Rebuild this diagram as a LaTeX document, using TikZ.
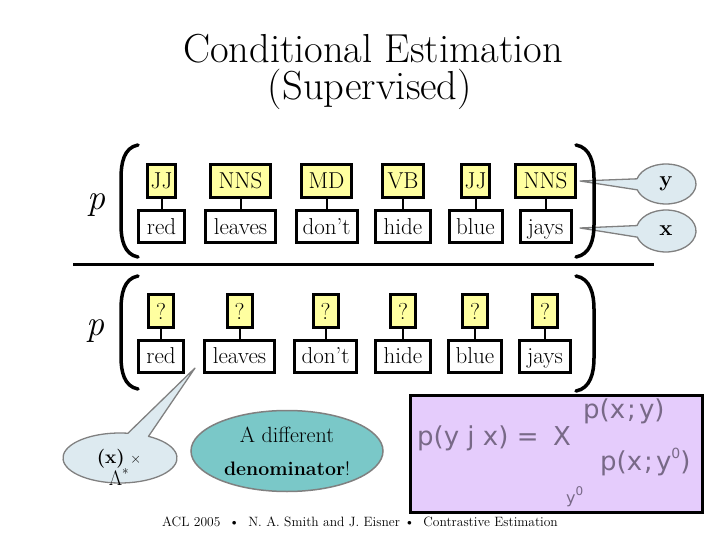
\documentclass[tikz,border=0pt]{standalone}
\usepackage{fontspec}
\newfontfamily\formfont{DejaVu Sans}
\usetikzlibrary{calc,shapes.geometric}
\definecolor{tagyellow}{RGB}{255,255,160}
\definecolor{calloutblue}{RGB}{221,234,240}
\definecolor{calloutedge}{RGB}{128,128,128}
\definecolor{tealfill}{RGB}{122,200,200}
\definecolor{lavender}{RGB}{229,204,252}
\definecolor{formgray}{RGB}{120,105,135}
\tikzset{
  tagbox/.style={draw=black, line width=3pt, fill=tagyellow, minimum height=33pt,
    inner xsep=2pt, inner ysep=0pt, text height=16pt, text depth=0pt,
    font=\fontsize{23}{26}\selectfont},
  wordbox/.style={draw=black, line width=3pt, fill=white, minimum height=32pt,
    inner xsep=2pt, inner ysep=0pt, text height=15pt, text depth=0pt,
    font=\fontsize{23}{26}\selectfont},
  stem/.style={draw=black, line width=2pt},
  paren/.style={draw=black, line width=3.5pt, line cap=round},
  callout/.style={draw=calloutedge, line width=1.3pt, fill=calloutblue, line join=round},
  plabel/.style={font=\fontsize{36}{40}\selectfont\itshape},
  formtext/.style={text=formgray, font=\fontsize{26}{30}\formfont, inner sep=0pt, anchor=base west},
}
\begin{document}
\begin{tikzpicture}[x=1pt,y=-1pt]
\useasboundingbox (0,0) rectangle (720,540);

% title
\node[anchor=base, font=\fontsize{40.5}{44}\selectfont] (title1) at (373,63) {Conditional Estimation};
\node[anchor=base, font=\fontsize{40.5}{44}\selectfont] (title2) at (370,100) {(Supervised)};

% callouts (y and x)
\coordinate (yc) at (666,184);
\coordinate (ytip) at (580,181);
\draw[callout] (ytip) -- ($(yc)+(195:30 and 20)$) arc[start angle=195, end angle=523, x radius=30, y radius=20] -- cycle;
\node[font=\fontsize{22}{24}\selectfont\bfseries] (ylab) at (yc) {y};
\coordinate (xc) at (666,231);
\coordinate (xtip) at (580,228);
\draw[callout] (xtip) -- ($(xc)+(195:30 and 21)$) arc[start angle=195, end angle=523, x radius=30, y radius=21] -- cycle;
\node[font=\fontsize{22}{24}\selectfont\bfseries] (xlab) at (xc) {x};

% bottom-left callout
\coordinate (lc) at (120,458);
\coordinate (ltip) at (195,368);
\draw[callout] (ltip) -- ($(lc)+(300:57 and 25)$) arc[start angle=300, end angle=638, x radius=57, y radius=25] -- cycle;
\node[align=center, font=\fontsize{19}{21}\selectfont, inner sep=0pt] (llab) at (119,467) {\textbf{(x)} {\fontsize{15}{15}\selectfont ×}\\{\fontsize{21}{21}\selectfont Λ}\textsuperscript{*}};

% p labels
\node[plabel] (p1) at (96,205) {p};
\node[plabel] (p2) at (95,331) {p};

% top row
\foreach \i/\x/\tw/\ww/\tagtext/\wordtext in {1/161.5/28/46/JJ/red, 2/240.5/60/70/NNS/leaves, 3/326.5/50/61/MD/don't, 4/403/41/55/VB/hide, 5/475.5/28/53/JJ/blue, 6/545.5/60/51/NNS/jays}{
  \node[tagbox, minimum width=\tw pt] (ta\i) at (\x,181) {\tagtext};
  \node[wordbox, minimum width=\ww pt] (wa\i) at (\x,226.5) {\wordtext};
  \draw[stem] (ta\i.south) -- (wa\i.north);
}
% bottom row
\foreach \i/\x/\ww/\wordtext in {1/161/45/red, 2/239.5/70/leaves, 3/325.5/62/don't, 4/403/55/hide, 5/475/53/blue, 6/545/51/jays}{
  \node[tagbox, minimum width=25pt] (tb\i) at (\x,311) {?};
  \node[wordbox, minimum width=\ww pt] (wb\i) at (\x,356) {\wordtext};
  \draw[stem] (tb\i.south) -- (wb\i.north);
}

% parentheses
\draw[paren] (138,145) to[out=190,in=90] (121,178) -- (121,225) to[out=270,in=170] (138,257);
\draw[paren] (576,145) to[out=-10,in=90] (594,178) -- (594,225) to[out=270,in=10] (576,257);
\draw[paren] (138,276) to[out=190,in=90] (121,309) -- (121,357) to[out=270,in=170] (138,389);
\draw[paren] (576,276) to[out=-10,in=90] (594,309) -- (594,358) to[out=270,in=10] (576,391);

% rule
\coordinate (rl) at (73,264);
\coordinate (rr) at (654,264);
\draw[line width=3pt] (rl) -- (rr);

% teal ellipse
\node[ellipse, draw=calloutedge, line width=1.5pt, fill=tealfill, minimum width=192pt, minimum height=81pt,
  inner sep=0pt, align=center, font=\fontsize{19.5}{33}\selectfont] (den) at (287,451) {{\fontsize{22}{33}\selectfont A different}\\\textbf{denominator}!};

% formula box
\node[draw=black, line width=2.4pt, fill=lavender, minimum width=292pt, minimum height=117pt, inner sep=0pt] (fbox) at (556.5,454) {};
\node[formtext] (f1) at (417,445) {p(y j x) =};
\node[formtext] (f2) at (553,445) {X};
\node[formtext] (f3) at (583,418) {p(x\kern2pt;\kern3pt y)};
\node[formtext] (f4) at (600,470) {p(x\kern2pt;\kern3pt y\raisebox{0.45em}{\fontsize{14}{14}\selectfont 0})};
\node[formtext, font=\fontsize{16}{18}\formfont] (f5) at (566,503) {y\raisebox{0.45em}{\fontsize{12}{12}\selectfont 0}};

% footer
\node[font=\fontsize{13.5}{16}\selectfont] (foot) at (360,522) {ACL 2005 \ \textbullet\ \ N. A. Smith and J. Eisner \textbullet\ \ Contrastive Estimation};
\end{tikzpicture}
\end{document}
